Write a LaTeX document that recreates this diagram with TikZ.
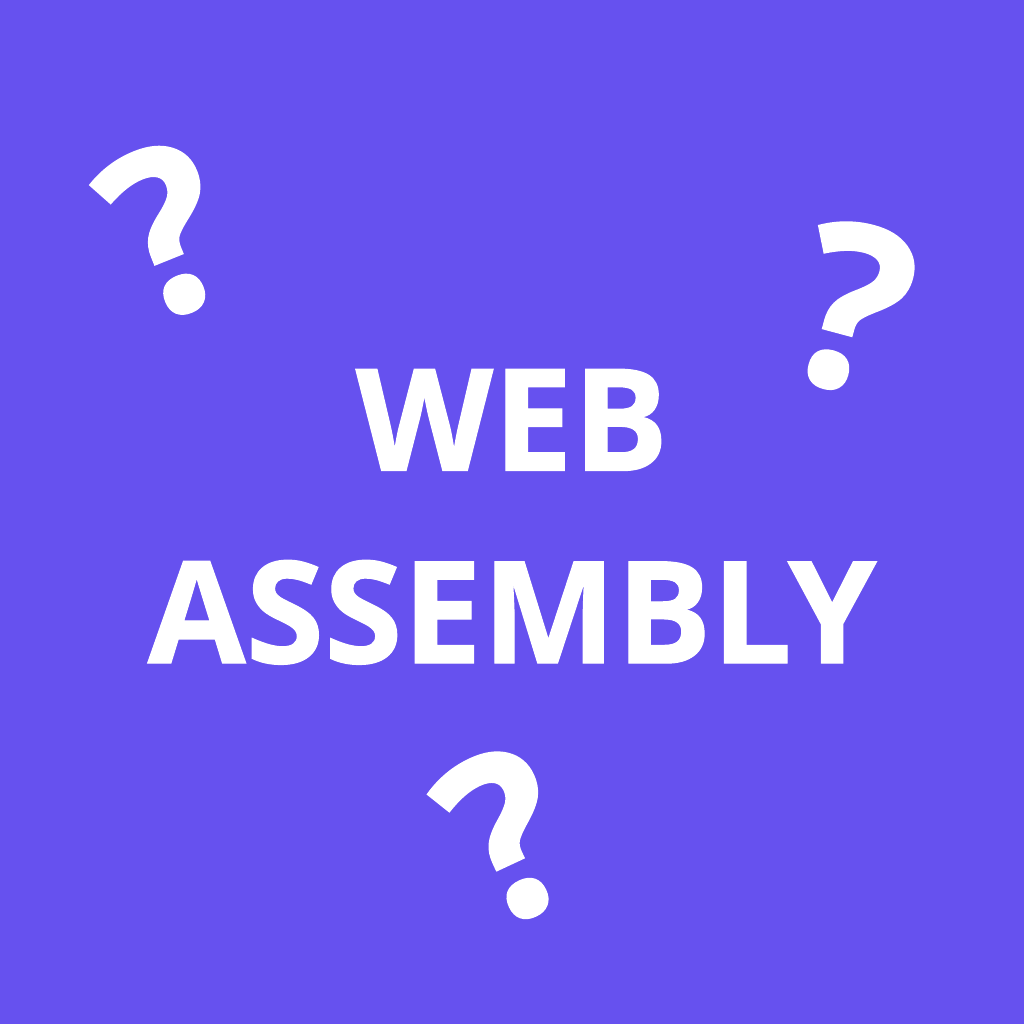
\documentclass[tikz,border=0pt]{standalone}
\usepackage{fontspec}
\setmainfont{Open Sans}
\newfontfamily\heavyfont{Open Sans}[BoldFeatures={FakeBold=0.8}]
\usepackage{tikz}
\definecolor{wasmbg}{HTML}{6651EF}

\begin{document}
\begin{tikzpicture}[
    title/.style={text=white, font=\heavyfont\fontsize{39.5}{39.5}\selectfont\bfseries},
    qmark/.style={text=white, font=\heavyfont\fontsize{64}{64}\selectfont\bfseries, inner sep=0pt}]
    \fill[wasmbg] (0,0) rectangle (10,10);
    \useasboundingbox (0,0) rectangle (10,10);
    \node[title] (web) at (5,5.90) {WEB};
    \node[title] (asm) at (5,4.02) {ASSEMBLY};
    \node[qmark, rotate=22] (q1) at (1.63,7.75) {?};
    \node[qmark, rotate=-15] (q2) at (8.33,6.99) {?};
    \node[qmark, rotate=25] (q3) at (4.95,1.84) {?};
\end{tikzpicture}
\end{document}
